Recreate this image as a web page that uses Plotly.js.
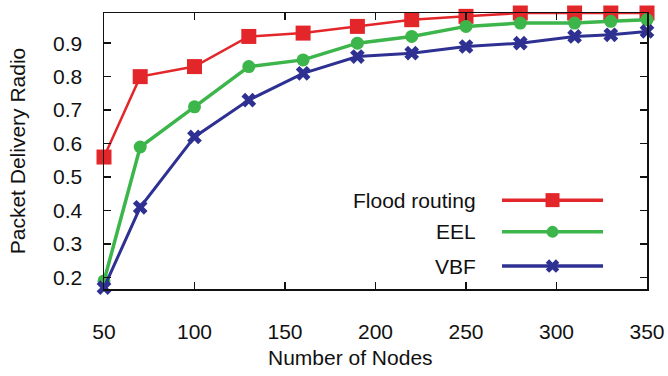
<!DOCTYPE html>
<html>
<head>
<meta charset="utf-8">
<script src="https://cdn.plot.ly/plotly-3.0.1.min.js"></script>
<style>html,body{margin:0;padding:0;background:#fff;}#chart{width:668px;height:376px;}</style>
</head>
<body>
<div id="chart"></div>
<script>
// Data
const nodes = [50, 70, 100, 130, 160, 190, 220, 250, 280, 310, 330, 350];
const floodRouting = [0.56, 0.80, 0.83, 0.92, 0.93, 0.95, 0.97, 0.98, 0.99, 0.99, 0.99, 0.99];
const eel = [0.19, 0.59, 0.71, 0.83, 0.85, 0.90, 0.92, 0.95, 0.96, 0.96, 0.965, 0.97];
const vbf = [0.17, 0.41, 0.62, 0.73, 0.81, 0.86, 0.87, 0.89, 0.90, 0.92, 0.925, 0.935];
const seriesNames = ["Flood routing", "EEL", "VBF"];
const xTicks = [50, 100, 150, 200, 250, 300, 350];
const yTicks = [0.2, 0.3, 0.4, 0.5, 0.6, 0.7, 0.8, 0.9];

const FONT = "Liberation Sans, Arial, sans-serif";
const colors = ["#e3262a", "#3cb54a", "#2e3192"];
const symbols = ["square", "circle", "x"];
const msize = [15, 13, 13];
const lwidth = [2.5, 3.5, 3];
const allSeries = [floodRouting, eel, vbf];

const traces = allSeries.map((ys, i) => ({
  x: nodes, y: ys, type: "scatter", mode: "lines+markers", name: seriesNames[i],
  line: {color: colors[i], width: lwidth[i]},
  marker: {symbol: symbols[i], size: msize[i], color: colors[i], line: {width: 0}},
  cliponaxis: false, showlegend: false
}));

// custom legend keys (text left of symbol, long lines) on an overlay axis in plot-fraction units
const legY = [0.322, 0.207, 0.083];
const annotations = [];
seriesNames.forEach((nm, i) => {
  traces.push({
    x: [0.733, 0.919], y: [legY[i], legY[i]],
    xaxis: "x2", yaxis: "y2", type: "scatter", mode: "lines",
    line: {color: colors[i], width: 3.5},
    showlegend: false, hoverinfo: "skip", cliponaxis: false
  });
  traces.push({
    x: [0.826], y: [legY[i]],
    xaxis: "x2", yaxis: "y2", type: "scatter", mode: "markers",
    marker: {symbol: symbols[i], size: msize[i] - 1, color: colors[i], line: {width: 0}},
    showlegend: false, hoverinfo: "skip", cliponaxis: false
  });
  annotations.push({
    xref: "x2", yref: "y2", x: 0.689, y: legY[i], text: nm, showarrow: false,
    xanchor: "right", yanchor: "middle", font: {family: FONT, size: 21, color: "#111"}
  });
});
annotations.push({
  xref: "paper", yref: "paper", x: 0.454, y: -0.248, xanchor: "center", yanchor: "middle",
  text: "Number of Nodes", showarrow: false, font: {family: FONT, size: 21, color: "#111"}
});

const layout = {
  width: 668, height: 376,
  margin: {l: 104, r: 21, t: 13, b: 87},
  paper_bgcolor: "#fff", plot_bgcolor: "#fff",
  font: {family: FONT, color: "#111"},
  showlegend: false,
  xaxis: {
    range: [50, 350], tickvals: xTicks, ticktext: xTicks.map(String),
    ticks: "inside", ticklen: 7, tickwidth: 1.5, tickcolor: "#111",
    showline: true, linecolor: "#111", linewidth: 1.5, mirror: "allticks",
    showgrid: false, zeroline: false, ticklabelstandoff: 23,
    tickfont: {family: FONT, size: 21, color: "#111"}
  },
  yaxis: {
    range: [0.166, 0.99], tickvals: yTicks, ticktext: yTicks.map(v => v.toFixed(1)),
    ticks: "inside", ticklen: 7, tickwidth: 1.5, tickcolor: "#111",
    showline: true, linecolor: "#111", linewidth: 1.5, mirror: "allticks",
    showgrid: false, zeroline: false, ticklabelstandoff: 16,
    tickfont: {family: FONT, size: 21, color: "#111"},
    title: {text: "Packet Delivery Radio", font: {family: FONT, size: 21, color: "#111"}, standoff: 21}
  },
  xaxis2: {overlaying: "x", range: [0, 1], visible: false, fixedrange: true},
  yaxis2: {overlaying: "y", range: [0, 1], visible: false, fixedrange: true},
  annotations: annotations
};

Plotly.newPlot("chart", traces, layout, {staticPlot: true, displayModeBar: false});
</script>
</body>
</html>
